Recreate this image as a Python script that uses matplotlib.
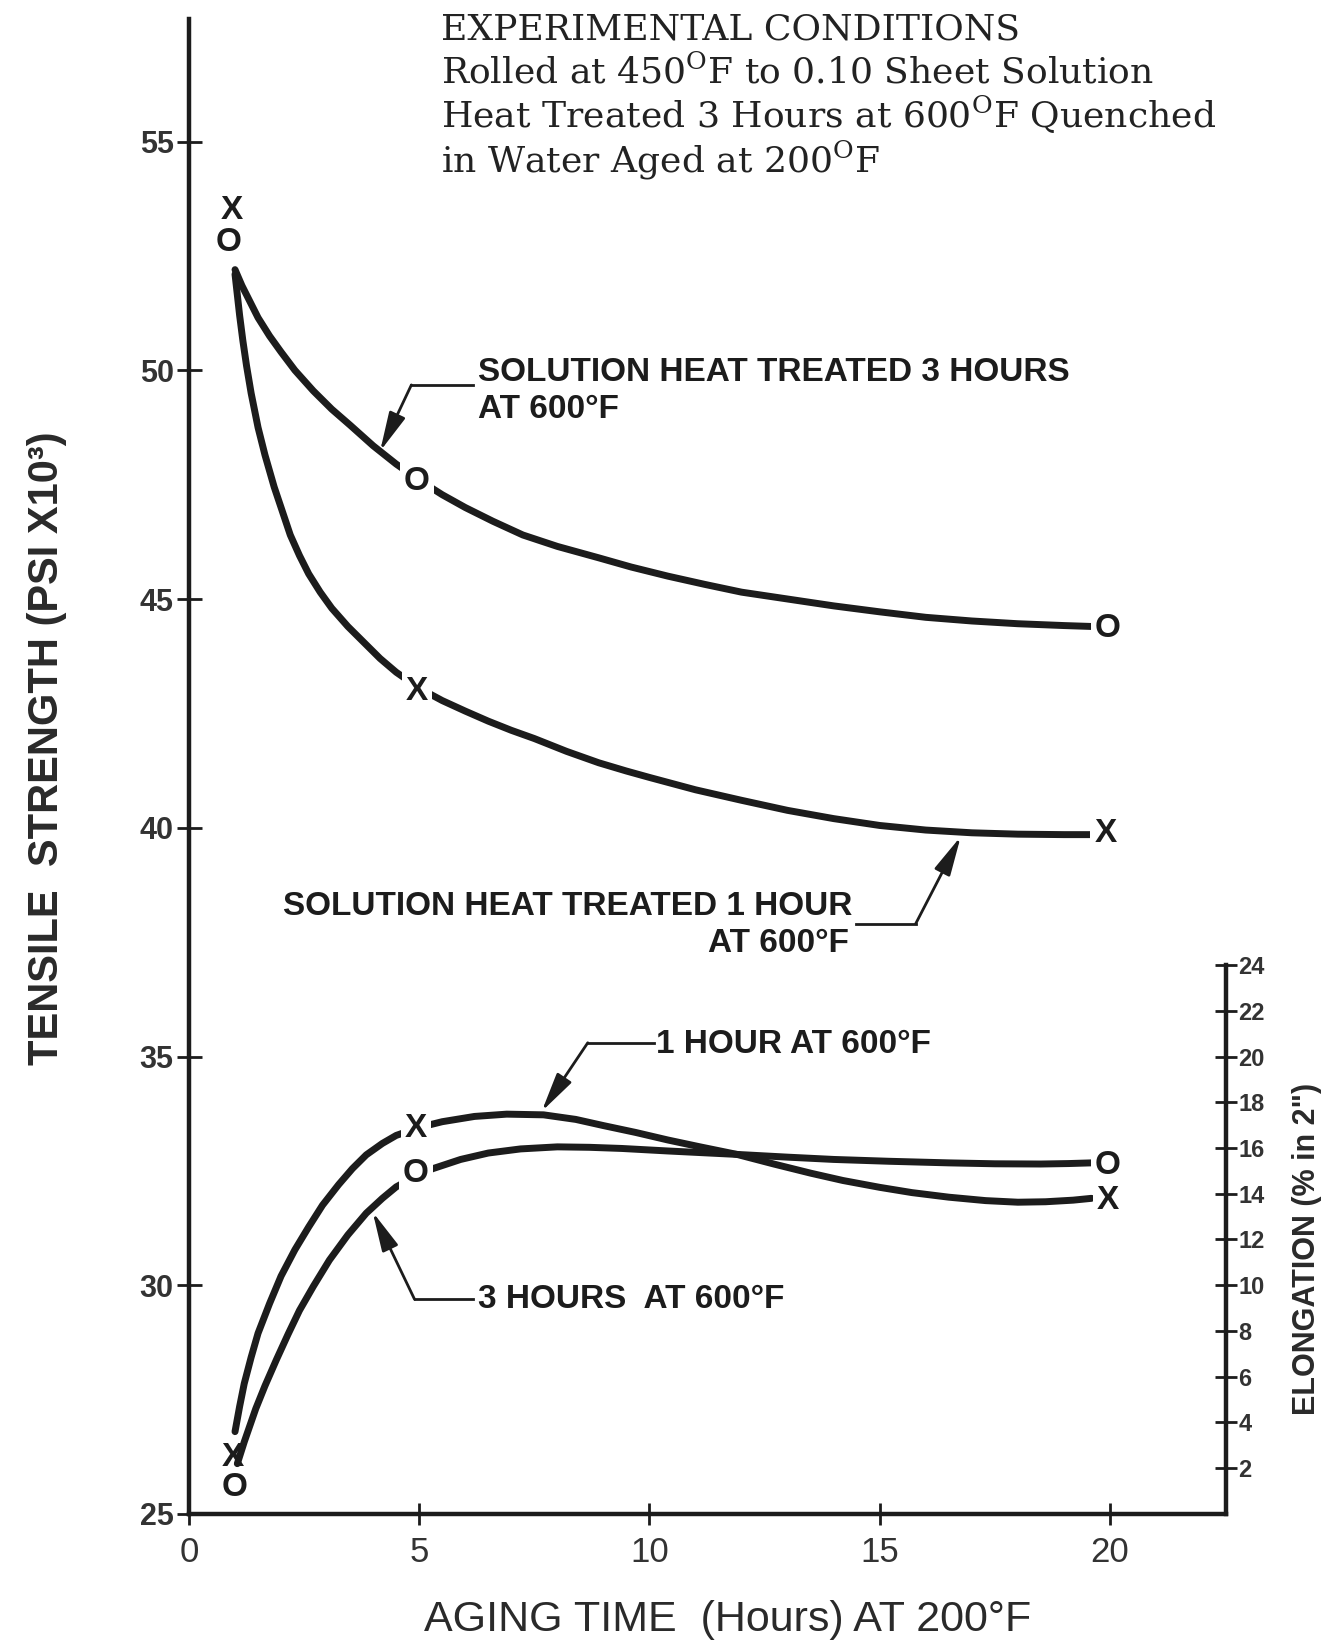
import matplotlib.pyplot as plt
from matplotlib import font_manager

names = {f.name for f in font_manager.fontManager.ttflist}
NARROW = 'Liberation Sans Narrow' if 'Liberation Sans Narrow' in names else 'Liberation Sans'
SANS = 'Liberation Sans'
SERIF = 'DejaVu Serif'

plt.rcParams['mathtext.fontset'] = 'custom'
plt.rcParams['mathtext.rm'] = SERIF

INK = '#1c1c1c'

# Tensile strength (psi x 10^3) vs aging time (hours)
hrs_ts_3h = [1.0, 1.15, 1.3, 1.5, 1.75, 2.0, 2.3, 2.7, 3.1, 3.5, 4.0, 4.5, 5.0, 5.5, 6.0, 6.6, 7.25,
             8.0, 8.9, 9.6, 10.4, 11.2, 12.0, 13.0, 14.0, 15.0, 16.0, 17.0, 18.0, 19.0, 19.6]
ts_3h = [52.2, 51.85, 51.55, 51.15, 50.75, 50.4, 50.0, 49.55, 49.15, 48.8, 48.35, 47.95, 47.6, 47.28,
         47.0, 46.7, 46.4, 46.15, 45.9, 45.7, 45.5, 45.32, 45.15, 45.0, 44.85, 44.72, 44.6, 44.52,
         44.46, 44.42, 44.4]

hrs_ts_1h = [1.0, 1.05, 1.1, 1.17, 1.25, 1.35, 1.5, 1.65, 1.85, 2.0, 2.2, 2.4, 2.6, 2.85, 3.1, 3.45,
             3.8, 4.15, 4.5, 5.0, 5.5, 6.0, 6.5, 7.0, 7.5, 8.2, 8.9, 9.5, 10.0, 11.0, 12.0, 13.0,
             14.0, 15.0, 16.0, 17.0, 18.0, 19.0, 19.6]
ts_1h = [52.1, 51.65, 51.2, 50.65, 50.1, 49.5, 48.75, 48.15, 47.45, 47.0, 46.4, 45.95, 45.55, 45.15,
         44.8, 44.4, 44.05, 43.7, 43.4, 43.05, 42.78, 42.55, 42.33, 42.13, 41.95, 41.67, 41.42,
         41.24, 41.1, 40.83, 40.6, 40.38, 40.2, 40.05, 39.95, 39.89, 39.86, 39.85, 39.85]

# Elongation (% in 2") vs aging time
hrs_el_1h = [1.0, 1.1, 1.2, 1.35, 1.5, 1.75, 2.0, 2.3, 2.6, 2.9, 3.25, 3.55, 3.85, 4.2, 4.5, 5.0,
             5.5, 6.2, 6.9, 7.7, 8.4, 9.0, 9.7, 10.4, 11.1, 11.9, 12.7, 13.5, 14.2, 15.0, 15.7,
             16.5, 17.3, 18.0, 18.6, 19.2, 19.6]
el_1h = [3.6, 4.7, 5.7, 6.85, 7.9, 9.2, 10.4, 11.55, 12.55, 13.5, 14.4, 15.1, 15.7, 16.2, 16.55,
         16.9, 17.15, 17.38, 17.48, 17.45, 17.25, 16.98, 16.68, 16.35, 16.05, 15.72, 15.3, 14.9,
         14.58, 14.28, 14.05, 13.85, 13.7, 13.63, 13.65, 13.72, 13.8]

hrs_el_3h = [1.05, 1.2, 1.45, 1.65, 1.9, 2.15, 2.4, 2.7, 3.05, 3.45, 3.85, 4.2, 4.5, 5.0, 5.3, 5.9,
             6.5, 7.2, 8.0, 8.7, 9.4, 10.4, 11.1, 11.9, 13.0, 14.0, 15.2, 16.5, 17.5, 18.5, 19.1, 19.6]
el_3h = [2.2, 3.15, 4.6, 5.6, 6.75, 7.85, 8.9, 9.95, 11.1, 12.2, 13.15, 13.8, 14.3, 14.85, 15.1,
         15.5, 15.78, 15.96, 16.05, 16.03, 15.98, 15.87, 15.8, 15.72, 15.6, 15.5, 15.42, 15.35,
         15.31, 15.3, 15.32, 15.35]

# Plotted test points (drawn as letters O = 3 h, X = 1 h)
pt_hrs_ts_3h = [0.86, 4.95, 19.95]
pt_ts_3h = [52.8, 47.57, 44.35]
pt_hrs_ts_1h = [0.92, 4.95, 19.9]
pt_ts_1h = [53.5, 42.98, 39.88]
pt_hrs_el_1h = [0.95, 4.93, 19.95]
pt_el_1h = [2.45, 16.85, 13.7]
pt_hrs_el_3h = [0.98, 4.93, 19.95]
pt_el_3h = [1.15, 14.9, 15.25]

x_ticks = [0, 5, 10, 15, 20]
ts_ticks = [25, 30, 35, 40, 45, 50, 55]
el_ticks = [2, 4, 6, 8, 10, 12, 14, 16, 18, 20, 22, 24]

XMAX = 22.52
TS_MIN, TS_MAX = 25, 57.68

fig = plt.figure(figsize=(13.27, 16.46), dpi=100)
ax = fig.add_axes([0.1424, 0.0802, 0.9239 - 0.1424, 0.9885 - 0.0802])
ax2 = ax.twinx()

ax.plot(hrs_ts_3h, ts_3h, color=INK, lw=5, solid_capstyle='round', zorder=2)
ax.plot(hrs_ts_1h, ts_1h, color=INK, lw=5, solid_capstyle='round', zorder=2)
ax2.plot(hrs_el_1h, el_1h, color=INK, lw=5, solid_capstyle='round', zorder=2)
ax2.plot(hrs_el_3h, el_3h, color=INK, lw=5, solid_capstyle='round', zorder=2)

mk = dict(ha='center', va='center', fontsize=24, family=NARROW, weight='bold', color=INK, zorder=5)
gap = dict(facecolor='white', edgecolor='none', pad=3)
for i, (x, y) in enumerate(zip(pt_hrs_ts_3h, pt_ts_3h)):
    ax.text(x, y, 'O', bbox=gap if i else None, **mk)
for i, (x, y) in enumerate(zip(pt_hrs_ts_1h, pt_ts_1h)):
    ax.text(x, y, 'X', bbox=gap if i else None, **mk)
for i, (x, y) in enumerate(zip(pt_hrs_el_1h, pt_el_1h)):
    ax2.text(x, y, 'X', bbox=gap if i else None, **mk)
for i, (x, y) in enumerate(zip(pt_hrs_el_3h, pt_el_3h)):
    ax2.text(x, y, 'O', bbox=gap if i else None, **mk)

# axes
ax.set_xlim(0, XMAX)
ax.set_ylim(TS_MIN, TS_MAX)
ax2.set_ylim(0, 2 * (TS_MAX - TS_MIN))
for s in ['top', 'right']:
    ax.spines[s].set_visible(False)
for s in ['top', 'left', 'bottom']:
    ax2.spines[s].set_visible(False)
for s in ['left', 'bottom']:
    ax.spines[s].set_linewidth(3.2)
    ax.spines[s].set_color(INK)
ax2.spines['right'].set_linewidth(3.2)
ax2.spines['right'].set_color(INK)
ax2.spines['right'].set_bounds(0, 24)

ax.set_xticks(x_ticks)
ax.set_yticks(ts_ticks)
ax2.set_yticks(el_ticks)
ax.tick_params(axis='y', direction='inout', length=18, width=2, color=INK, pad=2)
ax.tick_params(axis='x', direction='inout', length=16, width=2, color=INK, pad=8)
ax2.tick_params(axis='y', direction='inout', length=16, width=2, color=INK, pad=1)
for lab in ax.get_yticklabels():
    lab.set_fontfamily(SANS); lab.set_fontsize(22); lab.set_fontweight('bold'); lab.set_color('#333333')
for lab in ax.get_xticklabels():
    lab.set_fontfamily(NARROW); lab.set_fontsize(25); lab.set_color('#333333')
for lab in ax2.get_yticklabels():
    lab.set_fontfamily(SANS); lab.set_fontsize(17); lab.set_fontweight('bold'); lab.set_color('#333333')

# curve labels with leaders
lab = dict(family=NARROW, fontsize=24, weight='bold', color=INK, va='center')
arrow = dict(arrowstyle='-|>,head_length=1.6,head_width=0.35', lw=2, color=INK,
             shrinkA=0, shrinkB=0, mutation_scale=15)

ax.text(6.27, 49.95, 'SOLUTION HEAT TREATED 3 HOURS', ha='left', **lab)
ax.text(6.27, 49.15, 'AT 600°F', ha='left', **lab)
ax.plot([6.16, 4.83], [49.68, 49.68], color=INK, lw=2)
ax.annotate('', xy=(4.15, 48.23), xytext=(4.83, 49.68), arrowprops=arrow)

ax.text(14.41, 38.27, 'SOLUTION HEAT TREATED 1 HOUR', ha='right', **lab)
ax.text(14.32, 37.47, 'AT 600°F', ha='right', **lab)
ax.plot([14.48, 15.78], [37.9, 37.9], color=INK, lw=2)
ax.annotate('', xy=(16.76, 39.81), xytext=(15.78, 37.9), arrowprops=arrow)

ax.text(10.15, 35.27, '1 HOUR AT 600°F', ha='left', **lab)
ax.plot([10.1, 8.66], [35.3, 35.3], color=INK, lw=2)
ax.annotate('', xy=(7.66, 33.8), xytext=(8.66, 35.3), arrowprops=arrow)

ax.text(6.27, 29.69, '3 HOURS  AT 600°F', ha='left', **lab)
ax.plot([6.16, 4.9], [29.69, 29.69], color=INK, lw=2)
ax.annotate('', xy=(3.99, 31.6), xytext=(4.9, 29.69), arrowprops=arrow)

# axis titles
fig.text(0.5486, 0.0158, 'AGING TIME  (Hours) AT 200°F', ha='center', va='center',
         family=NARROW, fontsize=31, color='#2a2a2a')
fig.text(0.0355, 0.5456, 'TENSILE  STRENGTH (PSI X10³)', rotation=90, ha='center', va='center',
         family=NARROW, fontsize=30, weight='bold', color='#2a2a2a')
fig.text(0.985, 0.241, 'ELONGATION (% in 2")', rotation=90, ha='center', va='center',
         family=NARROW, fontsize=22, weight='bold', color='#2a2a2a')

# experimental conditions block
hdr = dict(family=SERIF, fontsize=26, color='#222222', ha='left', va='baseline')
x0 = 441 / 1327
for yb, s in [(40, 'EXPERIMENTAL CONDITIONS'),
              (84, r'Rolled at 450$^{\mathrm{O}}$F to 0.10 Sheet Solution'),
              (128, r'Heat Treated 3 Hours at 600$^{\mathrm{O}}$F Quenched'),
              (172, r'in Water Aged at 200$^{\mathrm{O}}$F')]:
    fig.text(x0, 1 - yb / 1646, s, **hdr)

fig.savefig('out.png', dpi=100)
